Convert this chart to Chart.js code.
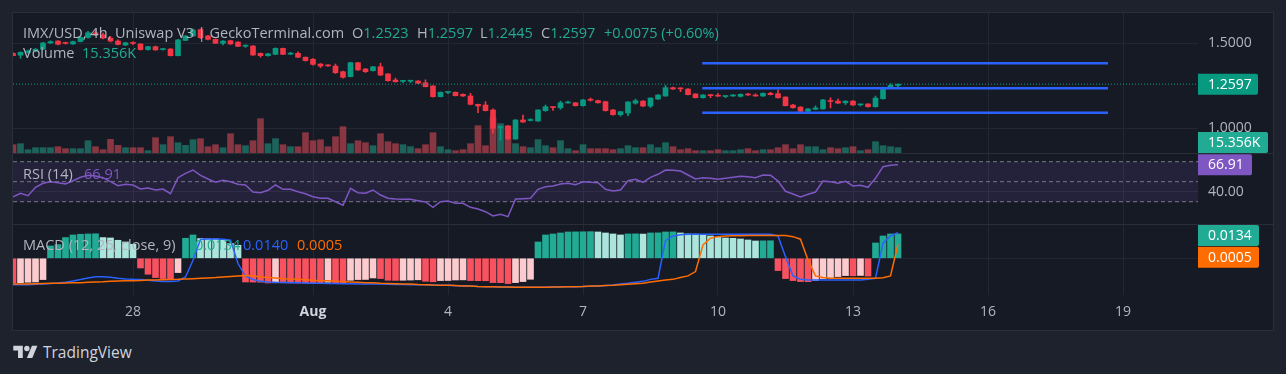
<!DOCTYPE html>
<html>
<head>
<meta charset="utf-8">
<title>IMX/USD 4h</title>
<script src="https://cdn.jsdelivr.net/npm/chart.js"></script>
<style>
  html, body { margin: 0; padding: 0; }
  body { width: 1286px; height: 374px; background: #1e222d; position: relative; overflow: hidden; font-family: 'Open Sans', sans-serif; }
  #panel { position: absolute; left: 12px; top: 12px; width: 1260px; height: 317px; border: 1px solid #2a2e39; background: #161a25; }
  #panel canvas { position: absolute; left: 0; }
  .sep { position: absolute; left: 0; width: 1260px; height: 1px; background: #2a2e39; }
  .lg { position: absolute; font-size: 14.5px; line-height: 20px; white-space: pre; color: #b2b5be; z-index: 5; }
  .up { color: #22ab94; }
  .logo { position: absolute; left: 13px; top: 341px; height: 22px; display: flex; align-items: center; color: #d1d4dc; font-size: 15.5px; }
  .logo svg { margin-right: 5px; }
</style>
</head>
<body>
<div id="panel">
  <canvas id="priceChart" width="1260" height="140" style="top:0"></canvas>
  <div class="sep" style="top:140px"></div>
  <canvas id="rsiChart" width="1260" height="70" style="top:141px"></canvas>
  <div class="sep" style="top:211px"></div>
  <canvas id="macdChart" width="1260" height="105" style="top:212px"></canvas>
</div>

<div class="lg" style="left:23px;top:23px">IMX/USD, 4h, Uniswap V3 | GeckoTerminal.com</div>
<div class="lg" style="left:352px;top:23px">O<span class="up">1.2523</span></div>
<div class="lg" style="left:417px;top:23px">H<span class="up">1.2597</span></div>
<div class="lg" style="left:480px;top:23px">L<span class="up">1.2445</span></div>
<div class="lg" style="left:541px;top:23px">C<span class="up">1.2597</span></div>
<div class="lg up" style="left:604px;top:23px">+0.0075 (+0.60%)</div>
<div class="lg" style="left:23px;top:43px">Volume</div>
<div class="lg up" style="left:82px;top:43px">15.356K</div>
<div class="lg" style="left:23px;top:164px">RSI (14)</div>
<div class="lg" style="left:84px;top:164px;color:#7e57c2">66.91</div>
<div class="lg" style="left:23px;top:235px">MACD (12, 26, close, 9)</div>
<div class="lg up" style="left:195px;top:235px">0.0134</div>
<div class="lg" style="left:243px;top:235px;color:#2962ff">0.0140</div>
<div class="lg" style="left:297px;top:235px;color:#ff6d00">0.0005</div>

<div class="logo">
  <svg width="25" height="19" viewBox="0 0 36 28"><path fill="#d1d4dc" d="M14 22H7V11H0V4h14v18zM28 22h-8l7.5-18h8L28 22z"/><circle fill="#d1d4dc" cx="20" cy="8" r="4"/></svg>
  <span>TradingView</span>
</div>

<script>
// time axis: one unit = one 4h bar, bar 0 = Jul 25 08:00
const tickIndex = [16, 40, 58, 76, 94, 112, 130, 148];
const tickLabels = ['28', 'Aug', '4', '7', '10', '13', '16', '19'];
const lastIndex = 158;

const opens = [
  1.441, 1.430, 1.447, 1.455, 1.465, 1.502, 1.513, 1.502, 1.496, 1.510,
  1.534, 1.562, 1.550, 1.530, 1.513, 1.490, 1.503, 1.496, 1.463, 1.480,
  1.463, 1.466, 1.427, 1.517, 1.543, 1.580, 1.543, 1.523, 1.500, 1.515,
  1.507, 1.483, 1.484, 1.441, 1.427, 1.435, 1.470, 1.436, 1.441, 1.418,
  1.406, 1.378, 1.372, 1.366, 1.333, 1.304, 1.386, 1.349, 1.339, 1.362,
  1.320, 1.284, 1.276, 1.277, 1.278, 1.268, 1.249, 1.186, 1.211, 1.212,
  1.200, 1.190, 1.141, 1.137, 1.108, 1.005, 1.013, 0.937, 1.049, 1.046,
  1.043, 1.104, 1.124, 1.121, 1.149, 1.150, 1.133, 1.168, 1.163, 1.157,
  1.108, 1.080, 1.090, 1.148, 1.160, 1.131, 1.172, 1.190, 1.239, 1.236,
  1.231, 1.202, 1.180, 1.198, 1.194, 1.187, 1.190, 1.188, 1.202, 1.196,
  1.190, 1.206, 1.204, 1.184, 1.137, 1.125, 1.100, 1.112, 1.114, 1.162,
  1.160, 1.150, 1.160, 1.138, 1.143, 1.127, 1.174, 1.241, 1.2523
];
const highs = [
  1.445, 1.450, 1.460, 1.470, 1.505, 1.515, 1.516, 1.507, 1.513, 1.537,
  1.570, 1.575, 1.560, 1.540, 1.520, 1.506, 1.508, 1.498, 1.482, 1.484,
  1.468, 1.469, 1.523, 1.545, 1.585, 1.585, 1.546, 1.526, 1.516, 1.518,
  1.510, 1.490, 1.486, 1.443, 1.441, 1.473, 1.472, 1.447, 1.450, 1.420,
  1.410, 1.381, 1.375, 1.378, 1.336, 1.389, 1.388, 1.352, 1.365, 1.383,
  1.322, 1.295, 1.280, 1.280, 1.280, 1.285, 1.251, 1.214, 1.214, 1.214,
  1.203, 1.206, 1.143, 1.157, 1.115, 1.013, 1.016, 1.052, 1.078, 1.057,
  1.110, 1.137, 1.127, 1.160, 1.160, 1.152, 1.170, 1.178, 1.166, 1.160,
  1.112, 1.100, 1.158, 1.172, 1.163, 1.180, 1.198, 1.252, 1.242, 1.238,
  1.233, 1.204, 1.198, 1.200, 1.205, 1.190, 1.200, 1.203, 1.206, 1.203,
  1.208, 1.212, 1.225, 1.186, 1.141, 1.127, 1.116, 1.132, 1.170, 1.180,
  1.172, 1.162, 1.163, 1.142, 1.145, 1.190, 1.243, 1.262, 1.2597
];
const lows = [
  1.425, 1.412, 1.440, 1.450, 1.462, 1.498, 1.490, 1.495, 1.494, 1.508,
  1.530, 1.545, 1.525, 1.508, 1.490, 1.486, 1.492, 1.460, 1.460, 1.458,
  1.460, 1.425, 1.425, 1.515, 1.540, 1.528, 1.520, 1.498, 1.490, 1.493,
  1.480, 1.476, 1.428, 1.418, 1.424, 1.433, 1.433, 1.433, 1.415, 1.395,
  1.372, 1.357, 1.364, 1.322, 1.295, 1.302, 1.340, 1.328, 1.336, 1.310,
  1.277, 1.272, 1.268, 1.268, 1.262, 1.243, 1.183, 1.184, 1.204, 1.190,
  1.188, 1.138, 1.092, 1.102, 0.971, 0.930, 0.935, 0.935, 1.035, 1.043,
  1.040, 1.100, 1.105, 1.112, 1.148, 1.131, 1.131, 1.160, 1.148, 1.101,
  1.078, 1.072, 1.075, 1.142, 1.128, 1.122, 1.170, 1.188, 1.229, 1.216,
  1.196, 1.178, 1.178, 1.180, 1.187, 1.180, 1.188, 1.184, 1.194, 1.188,
  1.188, 1.196, 1.178, 1.131, 1.119, 1.098, 1.098, 1.110, 1.112, 1.120,
  1.146, 1.140, 1.135, 1.132, 1.125, 1.125, 1.172, 1.238, 1.2445
];
const closes = [
  1.427, 1.447, 1.455, 1.465, 1.502, 1.510, 1.494, 1.499, 1.510, 1.534,
  1.562, 1.550, 1.530, 1.513, 1.493, 1.503, 1.499, 1.463, 1.480, 1.461,
  1.466, 1.427, 1.520, 1.543, 1.578, 1.533, 1.523, 1.500, 1.513, 1.496,
  1.482, 1.485, 1.431, 1.427, 1.438, 1.470, 1.435, 1.438, 1.418, 1.398,
  1.376, 1.366, 1.367, 1.327, 1.300, 1.386, 1.343, 1.333, 1.362, 1.313,
  1.280, 1.274, 1.278, 1.279, 1.265, 1.245, 1.186, 1.212, 1.213, 1.192,
  1.190, 1.141, 1.131, 1.104, 1.000, 1.010, 0.937, 1.049, 1.037, 1.049,
  1.108, 1.127, 1.122, 1.150, 1.151, 1.133, 1.167, 1.165, 1.150, 1.104,
  1.080, 1.098, 1.155, 1.162, 1.131, 1.178, 1.196, 1.239, 1.231, 1.232,
  1.198, 1.180, 1.196, 1.192, 1.189, 1.189, 1.196, 1.200, 1.196, 1.190,
  1.206, 1.198, 1.180, 1.133, 1.121, 1.100, 1.114, 1.120, 1.167, 1.158,
  1.148, 1.160, 1.137, 1.141, 1.127, 1.178, 1.241, 1.2523, 1.2597
];
// volume in thousands
const volumes = [
  24.1, 27, 9.6, 15.4, 15.4, 15.4, 18.3, 12.5, 12.5, 12.5,
  35.7, 18.3, 9.6, 39.7, 22.3, 15.4, 15.4, 15.4, 6.7, 44.4,
  24.1, 47.3, 29.9, 22.3, 38.6, 41.5, 18.3, 24.1, 15.4, 56,
  24.1, 21.2, 35.7, 99.5, 27, 41.5, 24.1, 18.3, 18.3, 58.9,
  35.7, 38.6, 18.3, 47.3, 76.3, 27, 35.7, 29.9, 21.2, 56,
  32.8, 27, 24.1, 18.3, 12.5, 24.1, 58.9, 18.3, 9.6, 6.7,
  9.6, 27, 79.2, 21.2, 102.4, 85, 79.2, 27, 18.3, 15.4,
  38.6, 21.2, 15.4, 35.7, 12.5, 6.7, 24.1, 12.5, 12.5, 12.5,
  9.6, 12.5, 21.2, 15.4, 15.4, 24.1, 15.4, 29.9, 18.3, 9.6,
  12.5, 6.7, 6.7, 6.7, 9.6, 6.7, 6.7, 9.6, 12.5, 6.7,
  9.6, 9.6, 15.4, 24.1, 12.5, 24.1, 18.3, 18.3, 9.6, 15.4,
  12.5, 15.4, 18.3, 6.7, 9.6, 32.8, 21.2, 18.3, 15.356
];
const rsi = [
  35, 38.4, 36, 44.4, 48.4, 50, 49, 47.7, 51, 54.4,
  56.4, 55.7, 54, 50, 46, 47.4, 46.7, 42.7, 43.7, 41.7,
  42.7, 38, 54, 58.4, 61.7, 56.4, 52.7, 49.4, 51.4, 50,
  47.4, 46.7, 39.7, 39, 41.4, 46.7, 42.4, 42.4, 40, 38,
  35, 33.4, 33.4, 30, 26.4, 43.4, 39, 38.4, 41.7, 36.7,
  33.4, 32.7, 32.4, 32.4, 31, 29.7, 24.4, 30, 30.7, 28.4,
  28.4, 24.4, 22.7, 20, 15.7, 17.4, 15, 32.7, 33, 33.4,
  42.4, 45, 45.7, 47.7, 48.4, 47, 50, 49.4, 49, 42.4,
  40.7, 41.7, 51, 52.4, 49.4, 54.4, 57.4, 61.7, 61.4, 60.7,
  56.7, 52.7, 54, 53.4, 52.4, 53.4, 54.4, 55.4, 55, 54,
  56.7, 56.4, 50.7, 40.4, 37.7, 34.7, 37.4, 39.7, 50.7, 50,
  48.4, 50.4, 45.7, 46.4, 44.4, 53.4, 65, 66.4, 66.91
];
const macdHist = [
  -0.01359, -0.01348, -0.0132, -0.01304, -0.01172, 0.00677, 0.00754, 0.01139, 0.01282, 0.0132,
  0.01337, 0.01348, 0.01139, 0.01117, 0.0099, 0.00897, 0.0077, -0.00534, -0.0088, -0.01062,
  -0.01117, -0.01128, -0.00787, 0.011, 0.01282, 0.01084, 0.01073, 0.01062, 0.0099, 0.00809,
  0.00715, -0.01304, -0.01309, -0.01315, -0.01359, -0.01348, -0.01353, -0.01359, -0.01364, -0.0137,
  -0.01375, -0.01381, -0.0132, -0.01359, -0.01364, -0.0121, -0.01172, -0.01166, -0.01084, -0.01117,
  -0.0121, -0.01216, -0.0121, -0.01199, -0.01183, -0.01265, -0.01293, -0.01227, -0.01221, -0.01194,
  -0.01188, -0.01227, -0.01232, -0.01238, -0.01337, -0.01342, -0.01392, -0.01337, -0.01282, -0.01155,
  0.00897, 0.01282, 0.01337, 0.01392, 0.01447, 0.01452, 0.01458, 0.01463, 0.01447, 0.01392,
  0.01337, 0.01282, 0.01337, 0.01342, 0.01331, 0.01392, 0.01397, 0.01447, 0.01452, 0.01392,
  0.01337, 0.01331, 0.01282, 0.01227, 0.01172, 0.01117, 0.011, 0.01062, 0.01007, 0.00952,
  0.00957, 0.00963, -0.00677, -0.01117, -0.01227, -0.01282, -0.01287, -0.01227, -0.01117, -0.01062,
  -0.01007, -0.00952, -0.00963, -0.00946, -0.00979, 0.00842, 0.01227, 0.01337, 0.0134
];
const macdLine = [
  -0.0145, -0.0145, -0.0145, -0.0143, -0.0141, -0.0139, -0.0136, -0.0132, -0.0125, -0.0117,
  -0.0108, -0.0101, -0.0101, -0.0105, -0.011, -0.0114, -0.0116, -0.0117, -0.0121, -0.0125,
  -0.0128, -0.0128, -0.0125, -0.0103, -0.0011, 0.0103, 0.0106, 0.0106, 0.0105, 0.0099,
  -0.0029, -0.0099, -0.0117, -0.0127, -0.013, -0.0132, -0.0133, -0.0134, -0.0135, -0.0136,
  -0.0138, -0.0138, -0.0139, -0.0139, -0.014, -0.014, -0.0141, -0.0141, -0.0142, -0.0142,
  -0.0143, -0.0144, -0.0144, -0.0145, -0.0145, -0.0146, -0.0147, -0.0148, -0.0149, -0.0151,
  -0.0152, -0.0153, -0.0155, -0.0156, -0.0157, -0.0158, -0.0158, -0.0159, -0.016, -0.016,
  -0.016, -0.0159, -0.0158, -0.0157, -0.0156, -0.0156, -0.0155, -0.0154, -0.0152, -0.015,
  -0.0147, -0.0142, -0.0138, -0.0132, -0.0127, -0.0116, -0.011, 0.0097, 0.0123, 0.013,
  0.0132, 0.0132, 0.0132, 0.0132, 0.0132, 0.0132, 0.0132, 0.0132, 0.0132, 0.0132,
  0.0132, 0.0132, 0.0123, 0.0009, -0.0097, -0.0116, -0.0119, -0.0119, -0.0119, -0.0119,
  -0.0119, -0.0119, -0.0119, -0.0119, -0.0116, -0.011, 0.0083, 0.0123, 0.014
];
const signalLine = [
  -0.0141, -0.0141, -0.0141, -0.014, -0.0139, -0.0138, -0.0137, -0.0136, -0.0135, -0.0134,
  -0.0132, -0.013, -0.0129, -0.0127, -0.0125, -0.0124, -0.0123, -0.0122, -0.012, -0.0119,
  -0.0118, -0.0117, -0.0116, -0.0114, -0.0112, -0.011, -0.0108, -0.0106, -0.0103, -0.01,
  -0.0097, -0.0095, -0.0096, -0.0103, -0.0106, -0.0109, -0.0112, -0.0114, -0.0116, -0.0118,
  -0.0121, -0.0123, -0.0124, -0.0127, -0.0128, -0.013, -0.0132, -0.0134, -0.0135, -0.0138,
  -0.0139, -0.014, -0.0141, -0.0142, -0.0144, -0.0145, -0.0147, -0.0148, -0.0149, -0.015,
  -0.0152, -0.0153, -0.0155, -0.0156, -0.0157, -0.0158, -0.0158, -0.0159, -0.016, -0.016,
  -0.016, -0.0159, -0.0158, -0.0158, -0.0157, -0.0156, -0.0155, -0.0153, -0.0152, -0.015,
  -0.0149, -0.0146, -0.0143, -0.014, -0.0138, -0.0131, -0.0125, -0.012, -0.0116, -0.0106,
  -0.0097, -0.0073, 0.0073, 0.011, 0.0119, 0.0123, 0.0124, 0.0124, 0.0125, 0.0125,
  0.0125, 0.0125, 0.0125, 0.0125, 0.0119, 0.0105, -0.0009, -0.0097, -0.0106, -0.011,
  -0.011, -0.011, -0.011, -0.011, -0.011, -0.011, -0.0107, -0.0097, 0.0077
];

// drawn horizontal levels (price) between two bar positions
const levelPrices = [1.382, 1.235, 1.092];
const levelFrom = 91.9;
const levelTo = 146;

const priceTicks = [1.0, 1.5];
const rsiTicks = [40];
const rsiBands = [70, 50, 30];
const macdTicks = [0];

const upColor = '#089981';
const downColor = '#f23645';
const gridColor = '#232733';
const textColor = '#b2b5be';

Chart.defaults.font.family = "'Open Sans', sans-serif";
Chart.defaults.font.size = 14;
Chart.defaults.color = textColor;
Chart.defaults.animation = false;

const last = closes.length - 1;
const candleColors = closes.map((c, i) => c >= opens[i] ? upColor : downColor);

// coloured value labels on the right axis
function valueBoxes(items) {
  return {
    id: 'valueBoxes',
    afterDraw(chart) {
      const { ctx, chartArea } = chart;
      ctx.save();
      items.forEach(b => {
        const y = chart.scales[b.axis].getPixelForValue(b.value);
        const top = Math.max(chartArea.top, Math.min(chartArea.bottom - 21, y - 10.5));
        ctx.fillStyle = b.color;
        ctx.beginPath();
        ctx.roundRect(chartArea.right, top, b.width, 21, [0, 2, 2, 0]);
        ctx.fill();
        ctx.fillStyle = '#ffffff';
        ctx.font = "500 14px 'Open Sans', sans-serif";
        ctx.textBaseline = 'middle';
        ctx.textAlign = 'left';
        ctx.fillText(b.text, chartArea.right + 10, top + 11);
      });
      ctx.restore();
    }
  };
}

const isMonth = c => !!(c && c.tick) && tickLabels[tickIndex.indexOf(c.tick.value)] === 'Aug';

function timeAxis(showLabels) {
  return {
    type: 'linear',
    min: 0,
    max: lastIndex,
    offset: false,
    grid: { color: gridColor, drawTicks: false, offset: false },
    border: { display: false },
    afterBuildTicks: s => { s.ticks = tickIndex.map(v => ({ value: v })); },
    afterFit: s => {
      s.height = showLabels ? 35 : 0;
      s.paddingLeft = 0;
      s.paddingRight = 0;
    },
    ticks: {
      display: showLabels,
      autoSkip: false,
      maxRotation: 0,
      padding: 9,
      color: c => isMonth(c) ? '#d1d4dc' : textColor,
      font: c => ({ weight: isMonth(c) ? 'bold' : 'normal' }),
      callback: v => tickLabels[tickIndex.indexOf(v)]
    }
  };
}

function valueAxis(min, max, ticks, fmt) {
  return {
    position: 'right',
    min: min,
    max: max,
    grid: { color: gridColor, drawTicks: false },
    border: { display: false },
    afterBuildTicks: s => { s.ticks = ticks.map(v => ({ value: v })); },
    afterFit: s => {
      s.width = 75;
      s.paddingTop = 0;
      s.paddingBottom = 0;
    },
    ticks: { color: textColor, padding: 10, callback: fmt }
  };
}

const baseOptions = {
  responsive: false,
  maintainAspectRatio: false,
  layout: { padding: 0 },
  plugins: { legend: { display: false }, tooltip: { enabled: false } }
};

// price pane: levels, last price line, candles, volume
new Chart(document.getElementById('priceChart'), {
  type: 'bar',
  data: {
    datasets: [
      ...levelPrices.map(p => ({
        type: 'line',
        order: 1,
        data: [{ x: levelFrom, y: p }, { x: levelTo, y: p }],
        borderColor: '#2962ff',
        borderWidth: 2.5,
        pointRadius: 0
      })),
      {
        type: 'line',
        order: 2,
        data: [{ x: 0, y: closes[last] }, { x: lastIndex, y: closes[last] }],
        borderColor: upColor,
        borderWidth: 1,
        borderDash: [1, 2],
        pointRadius: 0
      },
      {
        order: 3,
        data: opens.map((o, i) => ({ x: i, y: [o, closes[i]] })),
        backgroundColor: candleColors,
        barThickness: 5,
        minBarLength: 1,
        grouped: false
      },
      {
        order: 4,
        data: lows.map((l, i) => ({ x: i, y: [l, highs[i]] })),
        backgroundColor: candleColors,
        barThickness: 1,
        grouped: false
      },
      {
        order: 5,
        yAxisID: 'yv',
        data: volumes.map((v, i) => ({ x: i, y: v })),
        backgroundColor: candleColors.map(c => c === upColor ? 'rgba(34,171,148,0.5)' : 'rgba(247,82,95,0.5)'),
        barThickness: 6,
        grouped: false
      }
    ]
  },
  options: {
    ...baseOptions,
    scales: {
      x: timeAxis(false),
      y: valueAxis(0.855, 1.678, priceTicks, v => v.toFixed(4)),
      yv: { display: false, min: 0, max: 406 }
    }
  },
  plugins: [valueBoxes([
    { axis: 'y', value: closes[last], text: closes[last].toFixed(4), color: upColor, width: 60 },
    { axis: 'yv', value: volumes[last], text: volumes[last].toFixed(3) + 'K', color: '#22ab94', width: 70 }
  ])]
});

// RSI pane
new Chart(document.getElementById('rsiChart'), {
  type: 'line',
  data: {
    datasets: [
      {
        data: rsi.map((v, i) => ({ x: i, y: v })),
        borderColor: '#7e57c2',
        borderWidth: 1.5,
        pointRadius: 0
      },
      ...rsiBands.map((b, k) => ({
        data: [{ x: 0, y: b }, { x: lastIndex, y: b }],
        borderColor: '#787b86',
        borderWidth: 1,
        borderDash: [4, 3],
        pointRadius: 0,
        fill: k === 0 ? 3 : false,
        backgroundColor: 'rgba(126,87,194,0.14)'
      }))
    ]
  },
  options: {
    ...baseOptions,
    scales: {
      x: timeAxis(false),
      y: valueAxis(7.7, 77.7, rsiTicks, v => v.toFixed(2))
    }
  },
  plugins: [valueBoxes([
    { axis: 'y', value: rsi[last], text: rsi[last].toFixed(2), color: '#7e57c2', width: 54 }
  ])]
});

// MACD pane with the time axis
function histColor(v, i) {
  const prev = i > 0 ? macdHist[i - 1] : 0;
  if (v >= 0) return v > prev ? '#22ab94' : '#ace5dc';
  return v < prev ? '#f7525f' : '#fccbcd';
}

new Chart(document.getElementById('macdChart'), {
  type: 'bar',
  data: {
    datasets: [
      {
        type: 'line',
        data: signalLine.map((v, i) => ({ x: i, y: v })),
        borderColor: '#ff6d00',
        borderWidth: 1.5,
        pointRadius: 0
      },
      {
        type: 'line',
        data: macdLine.map((v, i) => ({ x: i, y: v })),
        borderColor: '#2962ff',
        borderWidth: 1.5,
        pointRadius: 0
      },
      {
        data: macdHist.map((v, i) => ({ x: i, y: v })),
        backgroundColor: macdHist.map(histColor),
        barThickness: 6,
        grouped: false
      }
    ]
  },
  options: {
    ...baseOptions,
    scales: {
      x: timeAxis(true),
      y: valueAxis(-0.0202, 0.0183, macdTicks, () => '')
    }
  },
  plugins: [valueBoxes([
    { axis: 'y', value: 0.0134, text: '0.0134', color: '#22ab94', width: 61 },
    { axis: 'y', value: 0.0005, text: '0.0005', color: '#ff6d00', width: 61 }
  ])]
});
</script>
</body>
</html>
